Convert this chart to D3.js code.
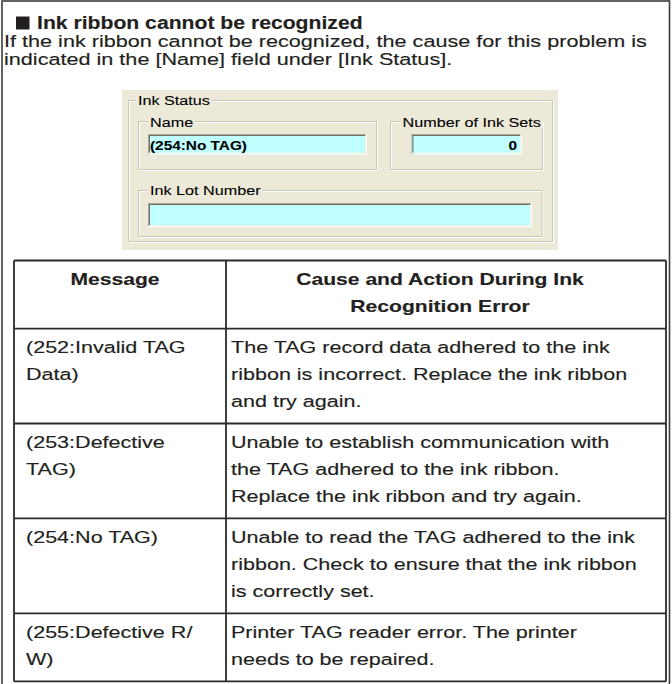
<!DOCTYPE html>
<html><head><meta charset="utf-8">
<script src="https://cdn.jsdelivr.net/npm/d3@7"></script>
<style>html,body{margin:0;padding:0;background:#fff;} svg{display:block;}</style>
</head><body><svg id="c" width="672" height="684"></svg>
<script>
// ---------- data ----------
const titleText = "Ink ribbon cannot be recognized";
const introLines = [
  "If the ink ribbon cannot be recognized, the cause for this problem is",
  "indicated in the [Name] field under [Ink Status]."
];
const statusGroupLabel = "Ink Status";
const fieldLabels = ["Name", "Number of Ink Sets", "Ink Lot Number"];
const fieldValues = ["(254:No TAG)", "0", ""];
const headerCells = [["Message"], ["Cause and Action During Ink", "Recognition Error"]];
const messageLines = [
  ["(252:Invalid TAG", "Data)"],
  ["(253:Defective", "TAG)"],
  ["(254:No TAG)"],
  ["(255:Defective R/", "W)"]
];
const causeLines = [
  ["The TAG record data adhered to the ink", "ribbon is incorrect. Replace the ink ribbon", "and try again."],
  ["Unable to establish communication with", "the TAG adhered to the ink ribbon.", "Replace the ink ribbon and try again."],
  ["Unable to read the TAG adhered to the ink", "ribbon. Check to ensure that the ink ribbon", "is correctly set."],
  ["Printer TAG reader error. The printer", "needs to be repaired."]
];

// ---------- helpers ----------
const SX = 1.29;
const FONT = "'Liberation Sans', Arial, Helvetica, sans-serif";
const INK = "#231f20";
const svg = d3.select("#c");

function txt(g, str, x, y, o = {}) {
  const fill = o.fill || INK;
  return g.append("text")
    .attr("transform", `translate(${x},${y}) scale(${o.sx || SX},1)`)
    .attr("font-family", FONT)
    .attr("font-size", o.size || 16.7)
    .attr("font-weight", o.bold ? "bold" : "normal")
    .attr("text-anchor", o.anchor || "start")
    .attr("fill", fill)
    .attr("stroke", fill)
    .attr("stroke-width", o.sw === undefined ? 0.15 : o.sw)
    .text(str);
}

// ---------- outer frame ----------
svg.append("rect").attr("x", 2).attr("y", 1).attr("width", 667.5).attr("height", 700)
  .attr("fill", "none").attr("stroke", "#3c3c3c").attr("stroke-width", 1.6);

// ---------- title & intro ----------
svg.append("rect").attr("x", 16).attr("y", 16.5).attr("width", 13.5).attr("height", 13)
  .attr("fill", INK);
txt(svg, titleText, 37, 29.3, { size: 17.5, bold: true, sx: 1.21, sw: 0.15 });
introLines.forEach((l, i) => txt(svg, l, 4, 47.3 + i * 18, { size: 16.7, sx: 1.295 }));

// ---------- dialog ----------
const dlg = svg.append("g");
const BEIGE = "#ece9d8";
const CYAN = "#bfffff";
dlg.append("rect").attr("x", 122).attr("y", 90).attr("width", 436).attr("height", 160)
  .attr("fill", BEIGE);

function etched(x0, y0, x1, y1) {
  dlg.append("rect").attr("x", x0 + 1).attr("y", y0 + 1).attr("width", x1 - x0).attr("height", y1 - y0)
    .attr("fill", "none").attr("stroke", "#ffffff").attr("stroke-width", 1);
  dlg.append("rect").attr("x", x0).attr("y", y0).attr("width", x1 - x0).attr("height", y1 - y0)
    .attr("fill", "none").attr("stroke", "#c9c7b6").attr("stroke-width", 1);
}
function groupLabel(str, x, y) {
  const t = txt(dlg, str, x, y, { size: 12.9, fill: "#000", sx: 1.255, sw: 0.1 });
  const w = t.node().getComputedTextLength() * 1.255;
  dlg.insert("rect", () => t.node()).attr("x", x - 2).attr("y", y - 12).attr("width", w + 4).attr("height", 14)
    .attr("fill", BEIGE);
  return t;
}
function field(x0, y0, x1, y1) {
  dlg.append("rect").attr("x", x0).attr("y", y0).attr("width", x1 - x0).attr("height", y1 - y0).attr("fill", CYAN);
  const ln = (a, b, c, d, col) => dlg.append("line").attr("x1", a).attr("y1", b).attr("x2", c).attr("y2", d)
    .attr("stroke", col).attr("stroke-width", 1);
  ln(x0, y0 + 0.5, x1, y0 + 0.5, "#aca899");
  ln(x0 + 0.5, y0, x0 + 0.5, y1, "#aca899");
  ln(x0 + 1, y0 + 1.5, x1 - 1, y0 + 1.5, "#716f64");
  ln(x0 + 1.5, y0 + 1, x0 + 1.5, y1 - 1, "#716f64");
  ln(x0, y1 - 0.5, x1, y1 - 0.5, "#ffffff");
  ln(x1 - 0.5, y0, x1 - 0.5, y1, "#ffffff");
  ln(x0 + 1, y1 - 1.5, x1 - 1, y1 - 1.5, "#f1efe2");
  ln(x1 - 1.5, y0 + 1, x1 - 1.5, y1 - 1, "#f1efe2");
}

etched(128.5, 100.5, 552.5, 241.5);
groupLabel(statusGroupLabel, 138, 105);

etched(138.5, 121.5, 376.5, 169.5);
groupLabel(fieldLabels[0], 150, 127);
field(148, 134, 367, 154.5);
txt(dlg, fieldValues[0], 150, 150, { size: 12.3, bold: true, fill: "#000", sx: 1.25, sw: 0.1 });

etched(390.5, 121.5, 542.5, 169.5);
groupLabel(fieldLabels[1], 402.5, 127);
field(411.5, 134, 522, 154.5);
txt(dlg, fieldValues[1], 517, 150, { size: 12.3, bold: true, fill: "#000", anchor: "end", sx: 1.25, sw: 0.1 });

etched(138.5, 190.5, 542, 236.5);
groupLabel(fieldLabels[2], 150, 195);
field(148, 203, 532, 227);
txt(dlg, fieldValues[2], 150, 220, { size: 12.3, bold: true, fill: "#000" });

// ---------- table ----------
const tbl = svg.append("g");
const colEdges = [14, 226, 666];
const LINE_H = 26.8, PAD = 14.5, FIRST = 24.5, TOP = 260.5;
const rows = [{ a: headerCells[0], b: headerCells[1], head: true }]
  .concat(messageLines.map((m, i) => ({ a: m, b: causeLines[i], head: false })));
rows.forEach(r => r.h = PAD + Math.max(r.a.length, r.b.length) * LINE_H);
const bounds = [TOP].concat(Array.from(d3.cumsum(rows, r => r.h), v => TOP + v));
rows.forEach((r, i) => r.y = bounds[i]);

rows.forEach(r => {
  r.a.forEach((l, k) => {
    if (r.head) txt(tbl, l, (colEdges[0] + colEdges[1]) / 2 - 5, r.y + FIRST + k * LINE_H, { bold: true, anchor: "middle", sx: 1.25, size: 16.9, sw: 0.15 });
    else txt(tbl, l, colEdges[0] + 12, r.y + FIRST + k * LINE_H, {});
  });
  r.b.forEach((l, k) => {
    if (r.head) txt(tbl, l, (colEdges[1] + colEdges[2]) / 2 - 6, r.y + FIRST + k * LINE_H, { bold: true, anchor: "middle", sx: 1.25, size: 16.9, sw: 0.15 });
    else txt(tbl, l, colEdges[1] + 5, r.y + FIRST + k * LINE_H, {});
  });
});

const STROKE = "#2b2b2b";
bounds.forEach(y => tbl.append("line").attr("x1", colEdges[0]).attr("x2", colEdges[2])
  .attr("y1", y).attr("y2", y).attr("stroke", STROKE).attr("stroke-width", 1.8));
colEdges.forEach(x => tbl.append("line").attr("x1", x).attr("x2", x)
  .attr("y1", bounds[0]).attr("y2", bounds[bounds.length - 1]).attr("stroke", STROKE).attr("stroke-width", 1.8));
</script></body></html>
